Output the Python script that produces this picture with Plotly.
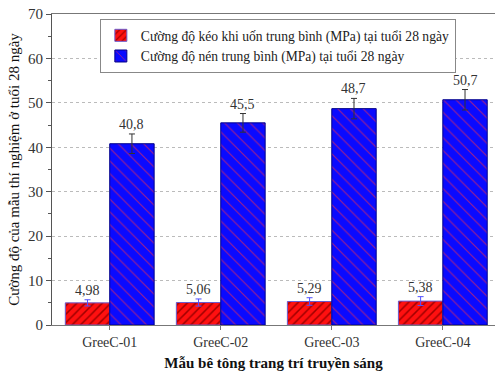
import plotly.graph_objects as go

categories = ["GreeC-01", "GreeC-02", "GreeC-03", "GreeC-04"]
flex_vals = [4.98, 5.06, 5.29, 5.38]
flex_err = [0.7, 0.8, 0.85, 1.0]
comp_vals = [40.8, 45.5, 48.7, 50.7]
comp_err = [2.2, 2.1, 2.3, 2.3]
flex_name = "Cường độ kéo khi uốn trung bình (MPa) tại tuổi 28 ngày"
comp_name = "Cường độ nén trung bình (MPa) tại tuổi 28 ngày"
y_ticks = [0, 10, 20, 30, 40, 50, 60, 70]

FONT = "Liberation Serif"
TXT = "#333333"

fig = go.Figure()
fig.add_trace(go.Bar(
    x=categories, y=flex_vals, name=flex_name,
    marker=dict(color="#ff0000", line=dict(color="#6a5acd", width=1),
                pattern=dict(shape="/", bgcolor="#ff1010", fgcolor="#a00000",
                             size=6, solidity=0.25, fillmode="replace")),
    error_y=dict(type="data", array=flex_err, color="#5050ff", thickness=1, width=3),
))
fig.add_trace(go.Bar(
    x=categories, y=comp_vals, name=comp_name,
    marker=dict(color="#0000ff", line=dict(color="#00008b", width=1),
                pattern=dict(shape="\\", bgcolor="#0a0aff", fgcolor="#a0208a",
                             size=9, solidity=0.12, fillmode="replace")),
    error_y=dict(type="data", array=comp_err, color="#333333", thickness=1, width=3),
))

for i in range(len(categories)):
    fig.add_annotation(x=i - 0.2, y=flex_vals[i] + flex_err[i],
                       text=f"{flex_vals[i]:.2f}".replace(".", ","),
                       showarrow=False, yanchor="bottom", yshift=0,
                       font=dict(family=FONT, size=14, color=TXT))
    fig.add_annotation(x=i + 0.2, y=comp_vals[i] + comp_err[i],
                       text=f"{comp_vals[i]:.1f}".replace(".", ","),
                       showarrow=False, yanchor="bottom", yshift=0,
                       font=dict(family=FONT, size=14, color=TXT))

fig.update_layout(
    width=495, height=374,
    margin=dict(l=52, r=0, t=14, b=49),
    paper_bgcolor="white", plot_bgcolor="white",
    barmode="group", bargap=0.2, bargroupgap=0,
    font=dict(family=FONT, size=13, color=TXT),
    showlegend=True,
    legend=dict(x=0.108, y=0.984, xanchor="left", yanchor="top",
                bordercolor="#888888", borderwidth=1, bgcolor="white",
                font=dict(family=FONT, size=13.6, color="#222222"),
                tracegroupgap=0, itemwidth=30),
    xaxis=dict(range=[-0.52, 3.47], showline=True, linecolor="#777777", linewidth=1,
               mirror=True, ticks="outside", ticklen=4, tickcolor="#777777",
               tickfont=dict(family=FONT, size=14, color=TXT),
               title=dict(text="<b>Mẫu bê tông trang trí truyền sáng</b>",
                          font=dict(family=FONT, size=15, color="#111111"), standoff=8)),
    yaxis=dict(range=[0, 70], tickvals=y_ticks, showline=True, linecolor="#555555",
               linewidth=1, ticks="outside", ticklen=5, tickcolor="#555555",
               minor=dict(dtick=5, ticks="outside", ticklen=3, tickcolor="#555555", showgrid=False),
               showgrid=True, gridcolor="#bbbbbb", griddash="dot", gridwidth=1,
               zeroline=False,
               tickfont=dict(family=FONT, size=15, color=TXT),
               title=dict(text="Cường độ của mẫu thí nghiệm ở tuổi 28 ngày",
                          font=dict(family=FONT, size=15, color="#111111"), standoff=4)),
)

fig.write_html("out.html", config={"displayModeBar": False},
               post_script="document.body.style.margin='0';document.body.style.overflow='hidden';")
